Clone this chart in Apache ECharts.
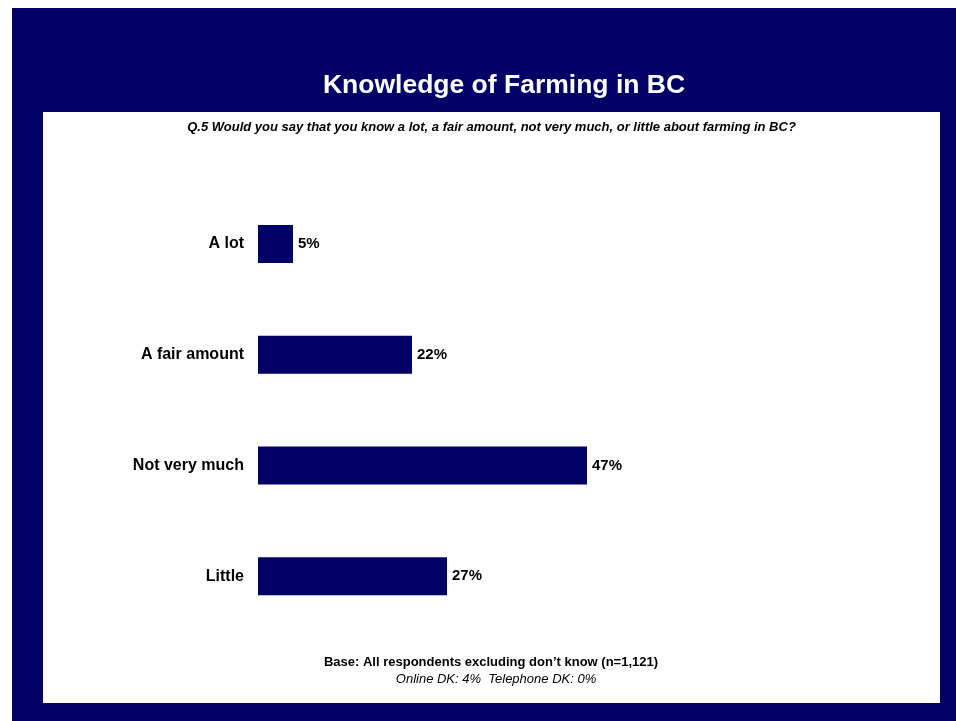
<!DOCTYPE html>
<html>
<head>
<meta charset="utf-8">
<script src="https://cdn.jsdelivr.net/npm/echarts@6/dist/echarts.min.js"></script>
<style>
  html, body { margin: 0; padding: 0; background: #ffffff; }
  #chart { width: 956px; height: 721px; }
</style>
</head>
<body>
<div id="chart"></div>
<script>
// Survey responses: share of respondents by self-rated knowledge
const categories = ['A lot', 'A fair amount', 'Not very much', 'Little'];
const values = [5, 22, 47, 27];

const NAVY = '#000066';
const FONT = 'Liberation Sans, Arial, sans-serif';

const chart = echarts.init(document.getElementById('chart'));

chart.setOption({
  animation: false,
  backgroundColor: '#ffffff',
  graphic: [
    { type: 'rect', z: -10, shape: { x: 12, y: 8, width: 944, height: 713 }, style: { fill: NAVY } },
    { type: 'rect', z: -9, shape: { x: 43, y: 112, width: 897, height: 591 }, style: { fill: '#ffffff' } },
    { type: 'text', z: 5,
      style: { text: 'Knowledge of Farming in BC', x: 504, y: 86, align: 'center', verticalAlign: 'middle',
        fill: '#ffffff', font: 'bold 26.5px ' + FONT } },
    { type: 'text', z: 5,
      style: { text: 'Q.5 Would you say that you know a lot, a fair amount, not very much, or little about farming in BC?',
        x: 491.5, y: 127, align: 'center', verticalAlign: 'middle',
        fill: '#000000', font: 'italic bold 13px ' + FONT } },
    { type: 'text', z: 5,
      style: { text: 'Base: All respondents excluding don\u2019t know (n=1,121)',
        x: 491, y: 662, align: 'center', verticalAlign: 'middle',
        fill: '#000000', font: 'bold 13px ' + FONT } },
    { type: 'text', z: 5,
      style: { text: 'Online DK: 4%  Telephone DK: 0%',
        x: 496, y: 679, align: 'center', verticalAlign: 'middle',
        fill: '#000000', font: 'italic 13px ' + FONT } }
  ],
  grid: { left: 258, top: 188.5, width: 420, height: 443, containLabel: false },
  xAxis: {
    type: 'value', min: 0, max: 60,
    show: false
  },
  yAxis: {
    type: 'category', data: categories, inverse: true,
    axisLine: { show: false }, axisTick: { show: false },
    axisLabel: { color: '#000000', fontFamily: FONT, fontWeight: 'bold', fontSize: 16, margin: 14 }
  },
  series: [{
    type: 'bar',
    data: values,
    barWidth: 38,
    itemStyle: { color: NAVY },
    label: {
      show: true, position: 'right', distance: 5,
      formatter: '{c}%', color: '#000000',
      fontFamily: FONT, fontWeight: 'bold', fontSize: 15
    }
  }]
});
</script>
</body>
</html>
